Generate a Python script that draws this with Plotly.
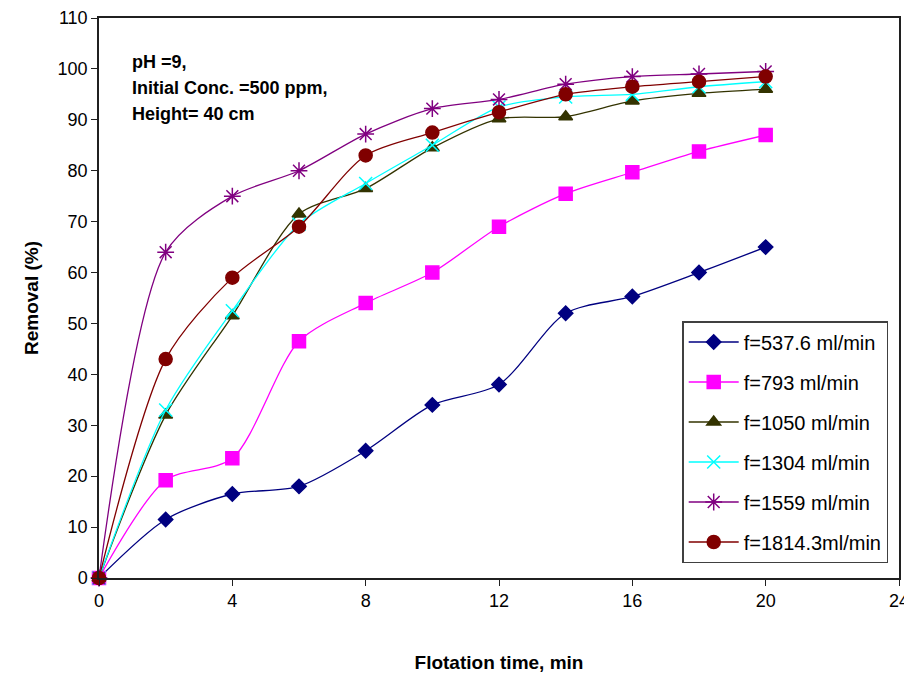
import plotly.graph_objects as go

time = [0, 2, 4, 6, 8, 10, 12, 14, 16, 18, 20]
f537 = [0, 11.5, 16.5, 18, 25, 34, 38, 52, 55.3, 60, 65]
f793 = [0, 19.2, 23.5, 46.5, 54, 60, 69, 75.5, 79.7, 83.8, 87]
f1050 = [0, 32, 51.5, 71.5, 76.5, 84.5, 90.2, 90.6, 93.7, 95.2, 96]
f1304 = [0, 33, 52.5, 69.5, 77.5, 85, 92.5, 94.5, 95, 96.5, 97.5]
f1559 = [0, 64, 75, 80, 87.2, 92.2, 94, 97, 98.5, 99, 99.5]
f1814 = [0, 43, 59, 69, 83, 87.5, 91.5, 95, 96.5, 97.5, 98.5]

names = ["f=537.6 ml/min", "f=793 ml/min", "f=1050 ml/min", "f=1304 ml/min",
         "f=1559 ml/min", "f=1814.3ml/min"]
series = [f537, f793, f1050, f1304, f1559, f1814]
colors = ["#000080", "#FF00FF", "#333300", "#00FFFF", "#800080", "#800000"]
symbols = ["diamond", "square", "triangle-up", "x-thin-open", "asterisk-open", "circle"]
sizes = [11, 13, 12, 13, 14, 13]

note_lines = ["pH =9,", "Initial Conc. =500 ppm,", "Height= 40 cm"]

fig = go.Figure()
for i, (nm, ys) in enumerate(zip(names, series)):
    fig.add_trace(go.Scatter(
        x=time, y=ys, name=nm, mode="lines+markers",
        line=dict(color=colors[i], width=1.3, shape="spline", smoothing=0.8),
        marker=dict(symbol=symbols[i], size=sizes[i], color=colors[i],
                    line=dict(color=colors[i], width=1.5)),
        legendgroup=str(i), cliponaxis=False,
    ))

# plot area in figure px: top 10, bottom 570 (height 560)
note_y = [(570 - 54) / 560, (570 - 80) / 560, (570 - 106) / 560]
annotations = [dict(text="<b>%s</b>" % t, xref="paper", yref="paper", x=0.039, y=yy,
                    xanchor="left", yanchor="middle", align="left", showarrow=False,
                    font=dict(size=18))
               for t, yy in zip(note_lines, note_y)]

fig.update_layout(
    width=912, height=681,
    paper_bgcolor="white", plot_bgcolor="white",
    margin=dict(l=91, r=21, t=10, b=111, autoexpand=False),
    font=dict(family="Liberation Sans, Arial", size=18, color="black"),
    showlegend=True,
    legend=dict(x=0.729, y=(570 - 313) / 560, xanchor="left", yanchor="top",
                bordercolor="#404040", borderwidth=1.5, bgcolor="white",
                font=dict(size=20), tracegroupgap=11, itemwidth=50),
    xaxis=dict(range=[0, 24], tickvals=[0, 4, 8, 12, 16, 20, 24], automargin=False,
               showline=True, linecolor="#202020", linewidth=1.5, mirror=True,
               ticks="outside", ticklen=6, tickcolor="#202020", showgrid=False,
               zeroline=False, tickfont=dict(size=18), ticklabeloverflow="allow",
               title=dict(text="<b>Flotation time, min</b>", font=dict(size=19), standoff=45)),
    yaxis=dict(range=[0, 110], tickvals=list(range(0, 111, 10)), automargin=False,
               showline=True, linecolor="#202020", linewidth=1.5, mirror=True,
               ticks="outside", ticklen=6, tickcolor="#202020", showgrid=False,
               zeroline=False, tickfont=dict(size=18), ticklabeloverflow="allow",
               title=dict(text="<b>Removal (%)</b>", font=dict(size=19), standoff=14)),
    annotations=annotations,
)

fig.write_html("out.html")
